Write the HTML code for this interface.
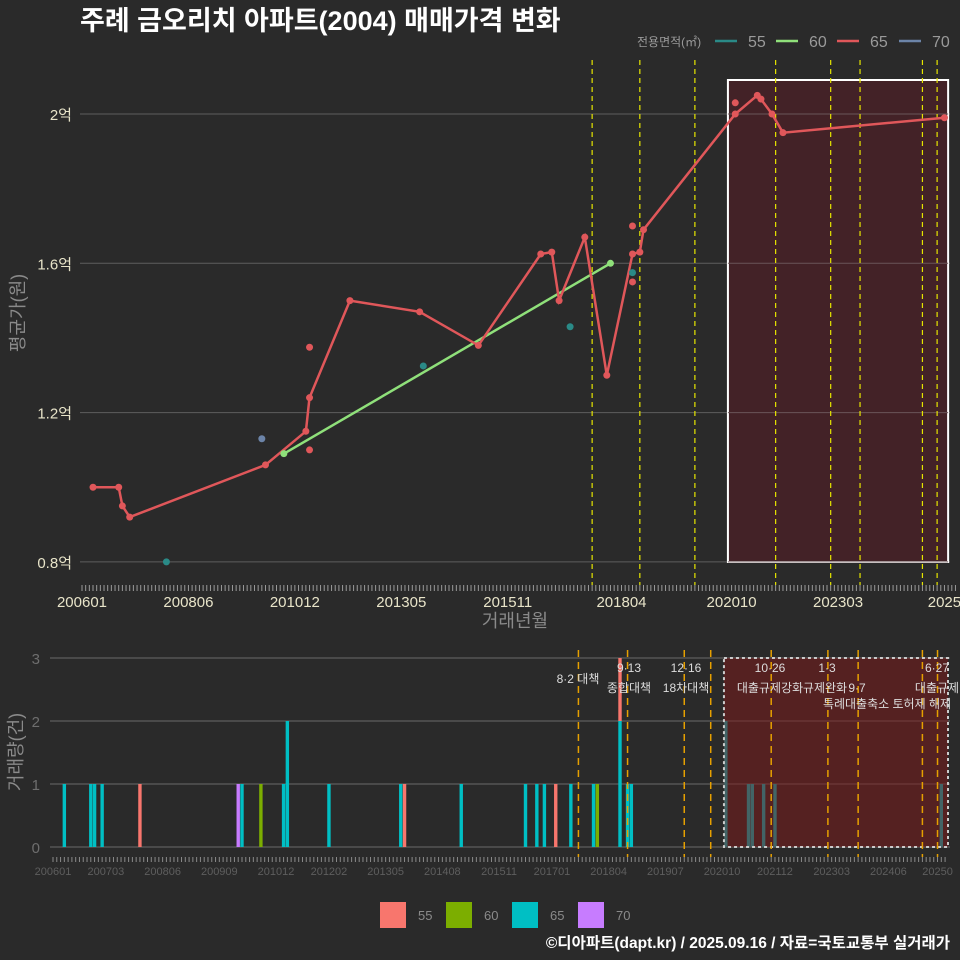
<!DOCTYPE html>
<html><head><meta charset="utf-8">
<style>
html,body{margin:0;padding:0;background:#2a2a2a;}
svg{display:block;font-family:"Liberation Sans","Noto Sans CJK KR",sans-serif;}
</style></head>
<body>
<svg id="chart" width="960" height="960" viewBox="0 0 960 960" xmlns="http://www.w3.org/2000/svg">
<rect x="0" y="0" width="960" height="960" fill="#2a2a2a"/>
<text x="80" y="30" fill="#ffffff" font-size="27" font-weight="bold">주례 금오리치 아파트(2004) 매매가격 변화</text>
<g id="topg"></g>
<g id="botg"></g>
<text transform="translate(24,313) rotate(-90)" text-anchor="middle" fill="#8a8a8a" font-size="18">평균가(원)</text>
<text x="515" y="627" text-anchor="middle" fill="#8a8a8a" font-size="18">거래년월</text>
<text transform="translate(22,752) rotate(-90)" text-anchor="middle" fill="#8a8a8a" font-size="18">거래량(건)</text>
<text x="950" y="948" text-anchor="end" fill="#ffffff" font-size="15.5" font-weight="bold">©디아파트(dapt.kr) / 2025.09.16 / 자료=국토교통부 실거래가</text>
</svg>
<script>
// ---- data (months since 2006-01) ----
const line65M = [3,10,11,13,50,61,62,73,92,108,125,128,130,137,143,150,152,153,178,184,185,188,191,235];
const line65V = [1.0,1.0,0.95,0.92,1.06,1.15,1.24,1.50,1.47,1.38,1.625,1.63,1.50,1.67,1.30,1.625,1.63,1.69,2.0,2.05,2.04,2.0,1.95,1.99];
const extra65M = [62,62,150,150,178];
const extra65V = [1.375,1.10,1.70,1.55,2.03];
const line60M = [55,144];
const line60V = [1.09,1.60];
const pts55M = [23,93,133,150];
const pts55V = [0.80,1.325,1.43,1.575];
const pts70M = [49];
const pts70V = [1.13];
const yTicks = [0.8,1.2,1.6,2.0];
const yTickLabels = ["0.8억","1.2억","1.6억","2억"];
const xTickM = [0,29,58,87,116,147,177,206,235];
const xTickLabels = ["200601","200806","201012","201305","201511","201804","202010","202303","2025"];
const policyTopM = [139,152,167,189,204,212,229,233];
// volume
const volM = [3,10,11,13,23,49,50,55,61,62,73,92,93,108,125,128,130,133,137,143,144,150,150,152,153,178,184,185,188,191,235];
const volSize = [65,65,65,65,55,70,65,60,65,65,65,65,55,65,65,65,65,55,65,65,60,65,55,65,65,65,65,65,65,65,65];
const volCnt = [1,1,1,1,1,1,1,1,1,2,1,1,1,1,1,1,1,1,1,1,1,2,1,1,1,2,1,1,1,1,1];
const volTickM = [0,14,29,44,59,73,88,103,118,132,147,162,177,191,206,221,234];
const volTickLabels = ["200601","200703","200806","200909","201012","201202","201305","201408","201511","201701","201804","201907","202010","202112","202303","202406","20250"];
const policyBotM = [139,152,167,174,190,205,213,230,234];
const policyLabels = [["8·2 대책",""],["9·13","종합대책"],["12·16","18차대책"],["10·26","대출규제강화"],["1·3","규제완화"],["9·7","특례대출축소 토허제 해제"],["6·27","대출규제"]];

const NS="http://www.w3.org/2000/svg";
function mk(parent,tag,attrs,text){const e=document.createElementNS(NS,tag);for(const k in attrs)e.setAttribute(k,attrs[k]);if(text!==undefined)e.textContent=text;parent.appendChild(e);return e;}
const X=m=>82+m*3.67, Y=v=>114+(2-v)*373.25;
const BX=m=>53+m*3.78, BY=c=>847-c*63;
const topG=document.getElementById('topg'), botG=document.getElementById('botg');
const C={55:'#2a8a87',60:'#8fe07a',65:'#e0575a',70:'#6c84a8'};
const BC={55:'#f8766d',60:'#7cae00',65:'#00bfc4',70:'#c77cff'};

// top grid
yTicks.forEach((v,i)=>{
  let g=mk(topG,'line',{x1:80,x2:950,y1:Y(v),y2:Y(v),stroke:'#5e5e5e','stroke-width':1});
  
  
  let t=mk(topG,'text',{x:72,y:Y(v)+6,'text-anchor':'end',fill:'#e8e4c9','font-size':15},yTickLabels[i]);
  
  
});
let box=mk(topG,'rect',{x:X(176),y:80,width:X(236)-X(176),height:482,fill:'#432227',stroke:'#ffffff','stroke-width':2});


yTicks.forEach(v=>{mk(topG,'line',{x1:X(176),x2:X(236),y1:Y(v),y2:Y(v),stroke:'#6a5558','stroke-width':1});});
for(let m=0;m<=238;m++){mk(topG,'line',{x1:X(m),x2:X(m),y1:585,y2:591,stroke:'#9a9a9a','stroke-width':1});}
xTickM.forEach((m,i)=>{
  let t=mk(topG,'text',{x:X(m),y:607,'text-anchor':'middle',fill:'#e8e4c9','font-size':15},xTickLabels[i]);
  
  
});
policyTopM.forEach(m=>{
  let l=mk(topG,'line',{x1:X(m),x2:X(m),y1:60,y2:585,stroke:'#e6e600','stroke-width':1.2,'stroke-dasharray':'5,4'});
  
  
});
function path(ms,vs){return ms.map((m,i)=>(i?'L':'M')+X(m).toFixed(1)+','+Y(vs[i]).toFixed(1)).join(' ');}
let p60=mk(topG,'path',{d:path(line60M,line60V),stroke:C[60],'stroke-width':2.5,fill:'none'});


let p65=mk(topG,'path',{d:path(line65M,line65V),stroke:C[65],'stroke-width':2.5,fill:'none'});


function dots(ms,vs,col,name){ms.forEach((m,i)=>{let c=mk(topG,'circle',{cx:X(m),cy:Y(vs[i]),r:3.5,fill:col});});}
dots(line65M,line65V,C[65],'point-65');
dots(extra65M,extra65V,C[65],'point-65');
dots(line60M,line60V,C[60],'point-60');
dots(pts55M,pts55V,C[55],'point-55');
dots(pts70M,pts70V,C[70],'point-70');
let lg=mk(topG,'g',{});


mk(lg,'text',{x:637,y:46,fill:'#9a9a9a','font-size':12},'전용면적(㎡)');
[[55,715,748],[60,776,809],[65,837,870],[70,899,932]].forEach(([s,x,tx])=>{
  let l=mk(lg,'line',{x1:x,x2:x+22,y1:41,y2:41,stroke:C[s],'stroke-width':2.5});
  
  
  mk(lg,'text',{x:tx,y:47,fill:'#9a9a9a','font-size':16},String(s));
});

// ---- bottom chart ----
[0,1,2,3].forEach(c=>{
  let g=mk(botG,'line',{x1:50,x2:950,y1:BY(c),y2:BY(c),stroke:'#6a6a6a','stroke-width':1});
  
  
  mk(botG,'text',{x:40,y:BY(c)+6,'text-anchor':'end',fill:'#6e6e6e','font-size':15},String(c));
});
const stack={};
volM.forEach((m,i)=>{
  const base=stack[m]||0;
  let r=mk(botG,'rect',{x:BX(m)-1.7,y:BY(base+volCnt[i]),width:3.4,height:volCnt[i]*63,fill:BC[volSize[i]]});
  
  
  stack[m]=base+volCnt[i];
});
let bbox=mk(botG,'rect',{x:BX(177.5),y:658,width:948-BX(177.5),height:189,fill:'rgba(120,25,25,0.55)',stroke:'#cccccc','stroke-width':2,'stroke-dasharray':'3,3'});


policyBotM.forEach(m=>{
  let l=mk(botG,'line',{x1:BX(m),x2:BX(m),y1:650,y2:857,stroke:'#e6a000','stroke-width':1.5,'stroke-dasharray':'7,5'});
  
  
});
for(let m=0;m<=236;m++){mk(botG,'line',{x1:BX(m),x2:BX(m),y1:857,y2:862,stroke:'#8a8a8a','stroke-width':1});}
volTickM.forEach((m,i)=>{
  let t=mk(botG,'text',{x:BX(m),y:875,'text-anchor':'middle',fill:'#5e5e5e','font-size':11},volTickLabels[i]);
  
  
});
const annPos=[[578,0,683,0],[629,672,629,692],[686,672,686,692],[770,672,770,692],[827,672,825,692],[857,692,887,708],[937,672,937,692]];
policyLabels.forEach((lb,i)=>{
  const a=annPos[i];
  if(i===0){
    let t=mk(botG,'text',{x:a[0],y:a[2],'text-anchor':'middle',fill:'#dddddd','font-size':12},lb[0]);
    
    
    return;
  }
  let t=mk(botG,'text',{x:a[0],y:a[1],'text-anchor':'middle',fill:'#dddddd','font-size':12},lb[0]);
  
  
  let t2=mk(botG,'text',{x:a[2],y:a[3],'text-anchor':'middle',fill:'#dddddd','font-size':12},lb[1]);
  
  
});
[[55,380],[60,446],[65,512],[70,578]].forEach(([s,x])=>{
  let r=mk(botG,'rect',{x:x,y:902,width:26,height:26,fill:BC[s]});
  
  
  mk(botG,'text',{x:x+38,y:920,fill:'#8a8a8a','font-size':13},String(s));
});
</script>
</body></html>
